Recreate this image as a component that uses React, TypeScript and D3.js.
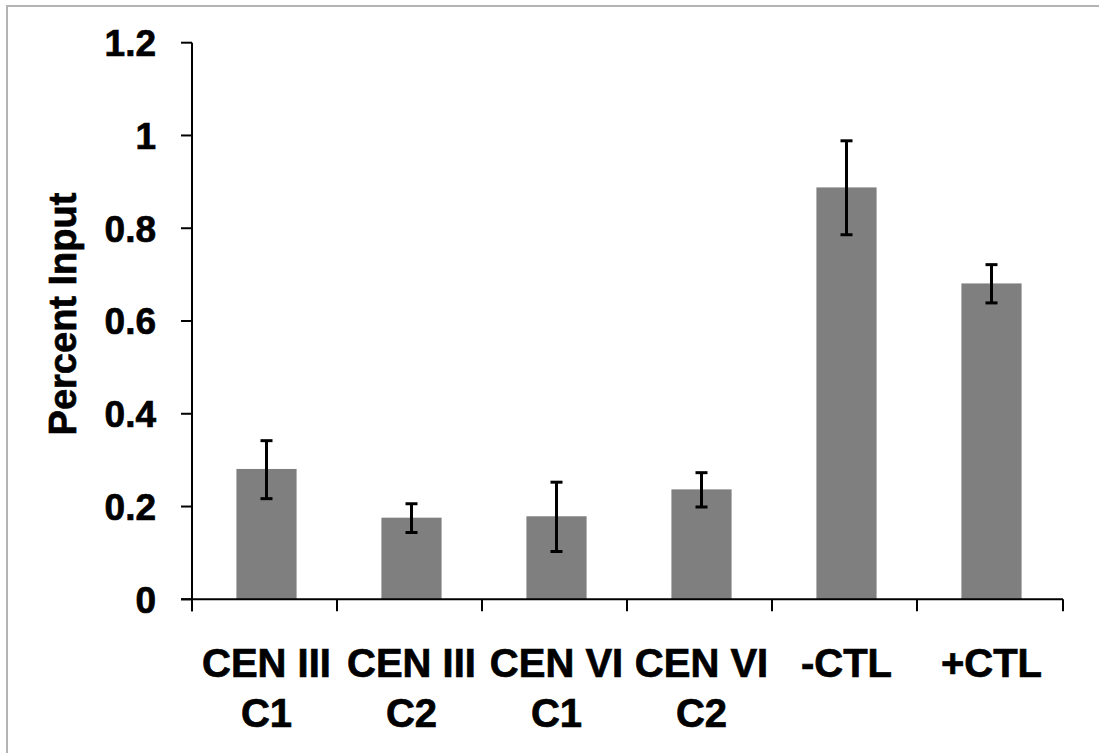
import React from "react";
import * as d3 from "d3";

const categories = ["CEN III|C1", "CEN III|C2", "CEN VI|C1", "CEN VI|C2", "-CTL", "+CTL"];
const values = [0.281, 0.176, 0.179, 0.237, 0.888, 0.681];
const errLow = [0.217, 0.144, 0.103, 0.199, 0.786, 0.639];
const errHigh = [0.342, 0.206, 0.2525, 0.273, 0.9885, 0.7215];
const yTicks = [0, 0.2, 0.4, 0.6, 0.8, 1, 1.2];
const yLabel = "Percent Input";

const W = 1099;
const H = 753;

export default function App() {
  const x = d3.scaleBand<string>().domain(categories).range([194, 1064]).paddingInner(0.585).paddingOuter(0.2925);
  const y = d3.scaleLinear().domain([0, 1.2]).range([599.3, 42.7]);
  const axisX0 = 192;
  const axisX1 = 1063;
  const step = (1064 - 194) / categories.length;
  const font = "'Liberation Sans', Arial, sans-serif";
  const heavy = { stroke: "#000", strokeWidth: 0.7 };

  return (
    <svg width={W} height={H} style={{ position: "absolute", left: 0, top: 0, background: "#fff" }}>
      <rect x={7} y={6} width={W + 20} height={H + 20} fill="#fff" stroke="#b4b4b4" strokeWidth={2} />
      {/* bars */}
      {categories.map((c, i) => (
        <rect key={c} x={x(c)} y={y(values[i])} width={x.bandwidth()} height={y(0) - y(values[i])} fill="#7f7f7f" />
      ))}
      {/* error bars */}
      {categories.map((c, i) => {
        const cx = (x(c) as number) + x.bandwidth() / 2;
        return (
          <g key={"e" + c} stroke="#000" strokeWidth={3}>
            <line x1={cx} x2={cx} y1={y(errHigh[i])} y2={y(errLow[i])} />
            <line x1={cx - 6} x2={cx + 6} y1={y(errHigh[i])} y2={y(errHigh[i])} />
            <line x1={cx - 6} x2={cx + 6} y1={y(errLow[i])} y2={y(errLow[i])} />
          </g>
        );
      })}
      {/* y axis */}
      <line x1={axisX0} x2={axisX0} y1={y(1.2)} y2={y(0) + 12} stroke="#000" strokeWidth={2} />
      {yTicks.map((t) => (
        <g key={t}>
          <line x1={181} x2={axisX0} y1={y(t)} y2={y(t)} stroke="#000" strokeWidth={2} />
          <text
            x={156}
            y={y(t)}
            dy="0.36em"
            textAnchor="end"
            fontFamily={font}
            fontWeight="bold"
            fontSize={37}
            fill="#000"
            {...heavy}
          >
            {d3.format("~g")(t)}
          </text>
        </g>
      ))}
      {/* x axis */}
      <line x1={axisX0 - 11} x2={axisX1} y1={y(0)} y2={y(0)} stroke="#000" strokeWidth={2} />
      {d3.range(categories.length + 1).map((k) => {
        const tx = k === 0 ? axisX0 : k === categories.length ? axisX1 : 194 + k * step - 2;
        return <line key={"t" + k} x1={tx} x2={tx} y1={y(0)} y2={y(0) + 12} stroke="#000" strokeWidth={2} />;
      })}
      {categories.map((c) => {
        const cx = (x(c) as number) + x.bandwidth() / 2;
        const lines = c.split("|");
        return (
          <text key={"l" + c} x={cx} y={677} textAnchor="middle" fontFamily={font} fontWeight="bold" fontSize={40} fill="#000" {...heavy}>
            {lines.map((ln, j) => (
              <tspan key={j} x={cx} dy={j === 0 ? 0 : 50}>
                {ln}
              </tspan>
            ))}
          </text>
        );
      })}
      <text
        transform={`translate(76, 314) rotate(-90)`}
        textAnchor="middle"
        fontFamily={font}
        fontWeight="bold"
        fontSize={38}
        fill="#000"
        {...heavy}
      >
        {yLabel}
      </text>
    </svg>
  );
}
